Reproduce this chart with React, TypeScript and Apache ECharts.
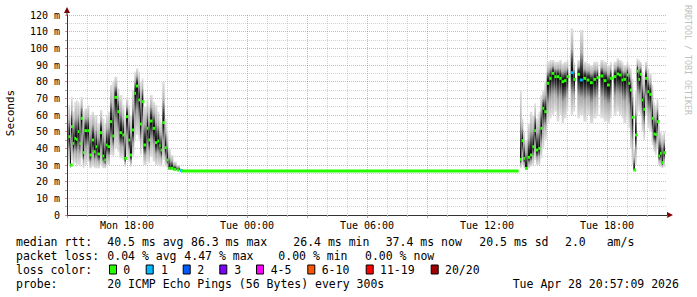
import React, { useEffect, useRef } from "react";
import * as echarts from "echarts";

// ---- data (minutes after Mon 15:00, values in ms) ----
const sampleMinutes = [
  4, 9, 12, 17, 22, 27, 32, 37, 41, 47, 52, 61, 67, 74, 81, 86, 91, 99, 106, 112,
  117, 122, 129, 136, 142, 151, 157, 166, 172, 177, 184, 189, 195, 202, 207, 214,
  219, 224, 229, 239, 244, 249, 257, 264, 271, 277, 281, 286, 293, 299, 304, 311,
  319, 329, 339,
  1359, 1364, 1369, 1374, 1382, 1389, 1396, 1402, 1407, 1414, 1420, 1426, 1432,
  1439, 1447, 1454, 1462, 1469, 1477, 1484, 1491, 1499, 1511, 1519, 1531, 1539,
  1549, 1559, 1569, 1579, 1589, 1600, 1610, 1620, 1629, 1640, 1649, 1656, 1664,
  1669, 1679, 1684, 1689, 1694, 1699, 1704, 1709, 1714, 1719, 1724, 1729, 1734,
  1741, 1747, 1754, 1759, 1764, 1769, 1774, 1779, 1784, 1789,
];
const medianMs = [
  47, 30, 53, 43, 46, 45.4, 50, 43, 58, 37.4, 50.6, 50.6, 36, 45, 38, 41, 36.6, 49.4, 35.4, 33,
  42, 41, 56, 47.4, 70.6, 62, 49.4, 48, 34, 59, 45, 36, 51, 73, 77.4, 69,
  54.6, 68, 42, 52, 45, 56.4, 52, 43.4, 44.4, 41.6, 39, 55.4, 40.4, 33, 28, 28,
  27.4, 27, 26.6,
  33.4, 44.6, 34, 28, 34.6, 36, 41, 50.6, 39, 40, 52, 64, 62,
  79, 82, 85, 83, 83, 82, 80, 80.6, 83, 85.4, 81.4, 84.4, 81,
  82, 81, 79.4, 81.4, 82.4, 83.4, 80.6, 78, 82, 83, 84.6, 84, 81,
  81.4, 84, 79, 75, 58.6, 27, 48, 86.3, 81.4, 84.4, 69, 63.4, 82,
  74, 72.4, 58, 48.6, 48.4, 56, 35.4, 37, 31.4, 37.4,
];
const smokeLowMs = [
  30, 28, 33, 30, 31, 29, 30, 29, 34, 28, 30, 32, 28, 29, 28, 28, 28, 30, 28, 28,
  29, 30, 36, 35, 40, 38, 34, 33, 29, 35, 32, 29, 35, 45, 48, 45,
  36, 40, 30, 32, 31, 35, 32, 30, 30, 29, 29, 33, 29, 28, 27, 27,
  26.8, 26.8, 26.5,
  28, 30, 28, 27, 28, 29, 30, 33, 30, 30, 34, 40, 45,
  55, 58, 60, 62, 56, 60, 55, 58, 62, 60, 62, 58, 60,
  56, 60, 55, 58, 60, 58, 56, 55, 58, 60, 62, 60, 58,
  55, 58, 52, 40, 30, 26.5, 30, 60, 62, 60, 50, 45, 60,
  52, 50, 42, 38, 36, 40, 30, 29, 28, 29,
];
const smokeHighMs = [
  66, 60, 71, 62, 68, 69, 68, 66, 71, 62, 64, 66, 60, 62, 60, 60, 55, 63, 58, 55,
  60, 62, 78, 80, 83, 76, 72, 66, 60, 70, 66, 60, 75, 86, 88, 86,
  80, 82, 65, 70, 66, 72, 68, 66, 62, 58, 56, 80, 58, 50, 40, 36,
  32, 30, 28,
  75, 58, 50, 45, 55, 62, 60, 67, 58, 62, 72, 75, 80,
  92, 93, 93, 92, 92, 93, 91, 92, 93, 112, 92, 93, 111,
  92, 91, 90, 92, 92, 93, 92, 90, 92, 92, 94, 93, 92,
  90, 92, 90, 88, 82, 40, 75, 94, 93, 92, 86, 84, 92,
  88, 85, 78, 68, 66, 70, 55, 50, 48, 50,
];
const lossCount = sampleMinutes.map((t) => (t === 339 || t === 1511 || t === 1539 ? 1 : 0));
const flatMinutes = [342, 1355];
const flatMs = [26.4, 26.4];

const timeLabels: Record<number, string> = {
  180: "Mon 18:00",
  540: "Tue 00:00",
  900: "Tue 06:00",
  1260: "Tue 12:00",
  1620: "Tue 18:00",
};

const rttStats = ["40.5 ms avg", "86.3 ms max", "26.4 ms min", "37.4 ms now", "20.5 ms sd", "2.0", "am/s"];
const lossStats = ["0.04 % avg", "4.47 % max", "0.00 % min", "0.00 % now"];
const lossLabels = ["0", "1", "2", "3", "4-5", "6-10", "11-19", "20/20"];
const lossColors = ["#26ff00", "#00b8ff", "#0059ff", "#7e00ff", "#ff00ff", "#ff5500", "#ff0000", "#a10000"];
const probeText = "20 ICMP Echo Pings (56 Bytes) every 300s";
const stampText = "Tue Apr 28 20:57:09 2026";

// ---- layout ----
const rttX = [107.3, 191, 293.3, 385.7, 479.3, 565, 606.7];
const lossX = [107.3, 184.3, 278.3, 365];
const boxX = [109, 145.7, 182.7, 219.3, 256, 307.3, 365.7, 430.7];
const boxLabelX = [123.3, 161, 197.3, 234.3, 270.7, 321.7, 380, 445];
const rowY = [241.5, 255.5, 269.5, 283.7];
const MONO = "DejaVu Sans Mono";

const majorGrid = "rgba(240,80,80,0.5)";
const minorGrid = "rgba(140,140,140,0.38)";

export default function App() {
  const ref = useRef<HTMLDivElement>(null);
  useEffect(() => {
    if (!ref.current) return;
    const chart = echarts.init(ref.current, null, { renderer: "svg" });

    const smokeData = sampleMinutes.map((t, i) => {
      const next = sampleMinutes[i + 1];
      const w = next !== undefined && next - t <= 10 ? next - t : 5;
      return [t, medianMs[i], smokeLowMs[i], smokeHighMs[i], w, lossCount[i]];
    });

    const txt = (x: number, y: number, text: string, extra: any = {}) => ({
      type: "text",
      x,
      y,
      silent: true,
      style: { text, fill: "#000", font: `11.5px '${MONO}'`, align: "left", verticalAlign: "middle", ...extra },
    });

    const graphics: any[] = [];
    // axis arrows
    graphics.push({ type: "polygon", shape: { points: [[64, 13], [70, 13], [67, 7]] }, style: { fill: "#7f0000" } });
    graphics.push({ type: "line", shape: { x1: 67, y1: 15, x2: 67, y2: 12 }, style: { stroke: "#333", lineWidth: 1 } });
    graphics.push({ type: "polygon", shape: { points: [[667, 212], [667, 218], [673, 215]] }, style: { fill: "#7f0000" } });
    // y title
    graphics.push({
      type: "text", x: 10.5, y: 113, rotation: Math.PI / 2, silent: true,
      style: { text: "Seconds", fill: "#000", font: `11px '${MONO}'`, align: "center", verticalAlign: "middle" },
    });
    // watermark
    graphics.push({
      type: "text", x: 688, y: 5, rotation: -Math.PI / 2, silent: true,
      style: { text: "RRDTOOL / TOBI OETIKER", fill: "#c0c0c0", font: `8.3px '${MONO}'`, align: "left", verticalAlign: "middle" },
    });
    // legend
    graphics.push(txt(16, rowY[0], "median rtt:"));
    rttStats.forEach((s, i) => graphics.push(txt(rttX[i], rowY[0], s)));
    graphics.push(txt(16, rowY[1], "packet loss:"));
    lossStats.forEach((s, i) => graphics.push(txt(lossX[i], rowY[1], s)));
    graphics.push(txt(16, rowY[2], "loss color:"));
    lossLabels.forEach((s, i) => {
      graphics.push({
        type: "rect",
        shape: { x: boxX[i] + 0.5, y: rowY[2] - 4.5, width: 7, height: 9 },
        style: { fill: lossColors[i], stroke: "#000", lineWidth: 1 },
      });
      graphics.push(txt(boxLabelX[i], rowY[2], s));
    });
    graphics.push(txt(16, rowY[3], "probe:"));
    graphics.push(txt(107.3, rowY[3], probeText));
    graphics.push(txt(512.7, rowY[3], stampText));

    const option: any = {
      animation: false,
      backgroundColor: "#ffffff",
      grid: { left: 67, top: 15, width: 600, height: 200 },
      xAxis: {
        type: "value",
        min: 0,
        max: 1800,
        interval: 180,
        axisLine: { show: true, lineStyle: { color: "#333", width: 1 } },
        axisTick: { show: true, length: 3, lineStyle: { color: "rgba(240,80,80,0.7)" } },
        minorTick: { show: true, splitNumber: 3, length: 2, lineStyle: { color: "#aaa" } },
        splitLine: { show: true, showMinLine: false, showMaxLine: false, lineStyle: { color: majorGrid, type: [1, 1], width: 1 } },
        minorSplitLine: { show: true, lineStyle: { color: minorGrid, type: [1, 1], width: 1 } },
        axisLabel: {
          formatter: (v: number) => timeLabels[v] || "",
          fontFamily: MONO,
          fontSize: 10,
          color: "#000",
          margin: 5,
          showMinLabel: true,
          showMaxLabel: true,
        },
      },
      yAxis: {
        type: "value",
        min: 0,
        max: 120,
        interval: 10,
        axisLine: { show: true, lineStyle: { color: "#333", width: 1 } },
        axisTick: { show: true, length: 2, lineStyle: { color: "rgba(240,80,80,0.7)" } },
        minorTick: { show: true, splitNumber: 2, length: 2, lineStyle: { color: "#aaa" } },
        splitLine: { show: true, showMinLine: false, lineStyle: { color: majorGrid, type: [1, 1], width: 1 } },
        minorSplitLine: { show: true, lineStyle: { color: minorGrid, type: [1, 1], width: 1 } },
        axisLabel: {
          formatter: (v: number) => (v === 0 ? "0" : `${v} m`),
          fontFamily: MONO,
          fontSize: 10,
          color: "#000",
          margin: 7,
        },
      },
      series: [
        {
          type: "custom",
          clip: true,
          data: smokeData,
          dimensions: ["t", "med", "lo", "hi", "w", "loss"],
          encode: { x: 0, y: [1, 2, 3] },
          renderItem: (params: any, api: any) => {
            const t = api.value(0);
            const med = api.value(1);
            const lo = api.value(2);
            const hi = api.value(3);
            const w = api.value(4);
            const loss = api.value(5);
            const top = api.coord([t, hi]);
            const bot = api.coord([t, lo]);
            const mid = api.coord([t, med]);
            const wpx = api.size([w, 0])[0];
            const h = Math.max(bot[1] - top[1], 0.5);
            const p = Math.min(Math.max((mid[1] - top[1]) / h, 0.001), 0.999);
            const grad = new echarts.graphic.LinearGradient(0, 0, 0, 1, [
              { offset: 0, color: "#e2e2e2" },
              { offset: p * 0.45, color: "#b0b0b0" },
              { offset: p * 0.78, color: "#303030" },
              { offset: p, color: "#000000" },
              { offset: p + (1 - p) * 0.18, color: "#303030" },
              { offset: p + (1 - p) * 0.5, color: "#a8a8a8" },
              { offset: 1, color: "#e2e2e2" },
            ]);
            return {
              type: "group",
              children: [
                { type: "rect", shape: { x: top[0], y: top[1], width: wpx, height: h }, style: { fill: grad } },
                {
                  type: "rect",
                  shape: { x: mid[0], y: mid[1] - 1.5, width: 2.8, height: 3 },
                  style: { fill: lossColors[loss] },
                },
              ],
            };
          },
          z: 2,
        },
        {
          type: "line",
          data: flatMinutes.map((t, i) => [t, flatMs[i]]),
          symbol: "none",
          lineStyle: { color: lossColors[0], width: 3 },
          z: 3,
        },
      ],
      graphic: graphics,
    };
    chart.setOption(option);
    return () => chart.dispose();
  }, []);
  return <div ref={ref} style={{ position: "fixed", left: 0, top: 0, width: 697, height: 297, background: "#fff" }} />;
}
